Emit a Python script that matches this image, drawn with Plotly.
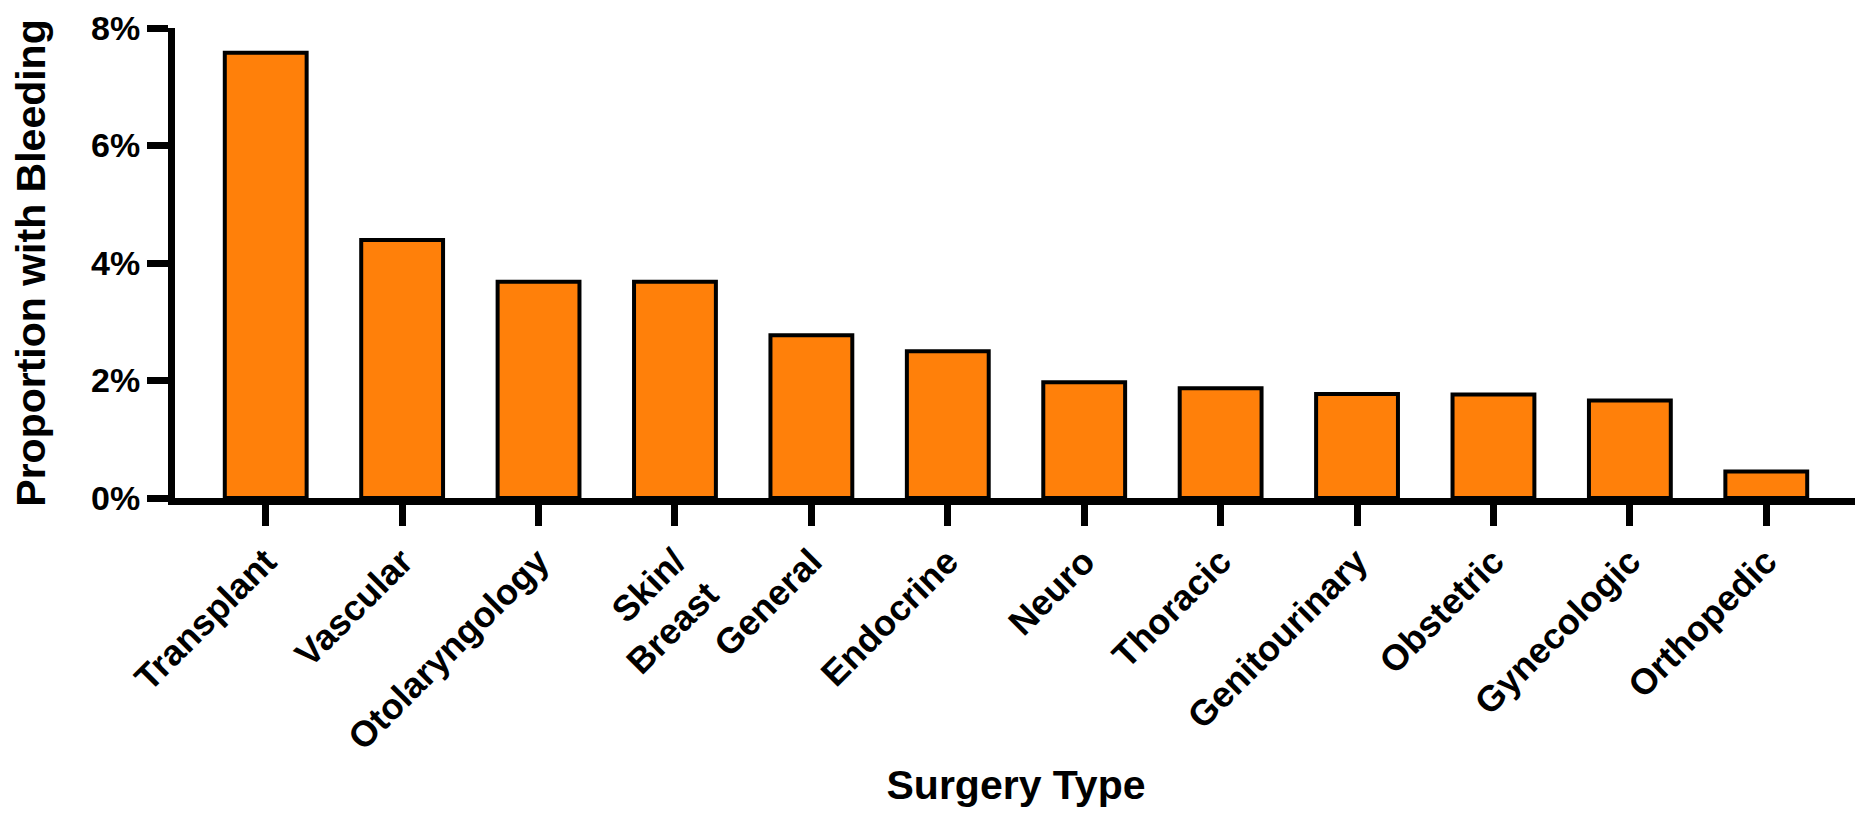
import plotly.graph_objects as go

# Surgery types and the proportion of patients with bleeding (%)
surgery_types = ["Transplant", "Vascular", "Otolaryngology", "Skin/<br>Breast", "General",
                 "Endocrine", "Neuro", "Thoracic", "Genitourinary", "Obstetric",
                 "Gynecologic", "Orthopedic"]
bleeding_pct = [7.58, 4.39, 3.68, 3.68, 2.77, 2.5, 1.97, 1.87, 1.77, 1.76, 1.66, 0.45]

y_ticks = [0, 2, 4, 6, 8]
y_tick_labels = ["0%", "2%", "4%", "6%", "8%"]

font_family = "Liberation Sans, Arial, Helvetica, sans-serif"

fig = go.Figure()

fig.add_trace(go.Bar(
    x=list(range(len(surgery_types))),
    y=bleeding_pct,
    width=0.6,
    marker=dict(color="#FF800A", line=dict(color="black", width=4)),
    hoverinfo="skip"
))

# the page body has an 8px margin, so the figure is a bit smaller than the window
fig.update_layout(
    width=1855,
    height=813,
    margin=dict(l=167, r=6, t=20, b=323),
    plot_bgcolor="white",
    paper_bgcolor="white",
    showlegend=False,
    font=dict(family=font_family, color="black", size=34, weight="bold"),
    xaxis=dict(
        range=[-0.665, len(surgery_types) - 1 + 0.665],
        tickmode="array",
        tickvals=list(range(len(surgery_types))),
        ticktext=surgery_types,
        tickangle=-45,
        ticks="outside",
        ticklen=21,
        tickwidth=7,
        tickcolor="black",
        showline=True,
        linewidth=7,
        linecolor="black",
        showgrid=False,
        zeroline=False,
        automargin=False,
        tickfont=dict(size=36, weight="bold"),
        title=dict(text="Surgery Type", font=dict(size=41, weight="bold"), standoff=16),
    ),
    yaxis=dict(
        range=[0, 8],
        tickmode="array",
        tickvals=y_ticks,
        ticktext=y_tick_labels,
        ticklabeloverflow="allow",
        ticks="outside",
        ticklen=21,
        tickwidth=7,
        tickcolor="black",
        showline=True,
        linewidth=7,
        linecolor="black",
        showgrid=False,
        zeroline=False,
        automargin=False,
        tickfont=dict(size=34, weight="bold"),
        title=dict(text="Proportion with Bleeding", font=dict(size=41, weight="bold"), standoff=45),
    ),
)

fig.write_html("out.html")
